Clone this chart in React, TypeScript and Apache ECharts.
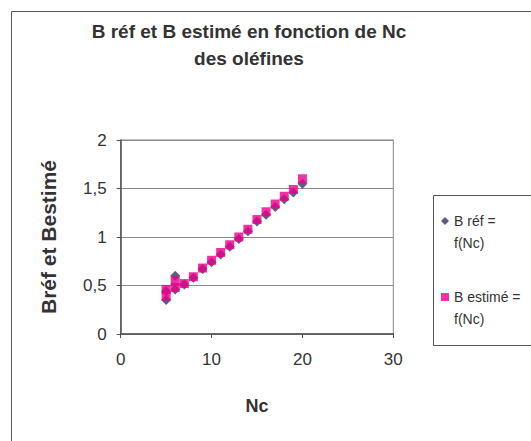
import React, { useEffect, useRef } from "react";
import * as echarts from "echarts";

const titleText = "B réf et B estimé en fonction de Nc\ndes oléfines";
const xName = "Nc";
const yName = "Bréf et Bestimé";
const refName = "B réf = f(Nc)";
const estName = "B estimé = f(Nc)";

const nc = [5, 5, 6, 6, 7, 8, 9, 10, 11, 12, 13, 14, 15, 16, 17, 18, 19, 20];
const bRef = [0.35, 0.44, 0.6, 0.46, 0.51, 0.58, 0.67, 0.74, 0.82, 0.9, 0.98, 1.06, 1.16, 1.23, 1.31, 1.39, 1.46, 1.55];
const bEst = [0.39, 0.46, 0.55, 0.48, 0.52, 0.59, 0.68, 0.76, 0.84, 0.92, 1.0, 1.08, 1.18, 1.26, 1.34, 1.42, 1.49, 1.6];

const FONT = "'Liberation Sans', Arial, sans-serif";

export default function App() {
  const ref = useRef<HTMLDivElement>(null);
  useEffect(() => {
    if (!ref.current) return;
    const chart = echarts.init(ref.current, null, { renderer: "svg" });
    chart.setOption({
      animation: false,
      backgroundColor: "#ffffff",
      textStyle: { fontFamily: FONT },
      title: {
        text: titleText,
        left: 249,
        top: 18,
        padding: 0,
        textAlign: "center",
        textStyle: { fontFamily: FONT, fontSize: 19, fontWeight: "bold", color: "#333333", lineHeight: 27 },
      },
      grid: {
        left: 120.7,
        right: 137.7,
        top: 140,
        bottom: 107,
        show: true,
        borderColor: "#8c8282",
        borderWidth: 1,
      },
      legend: {
        orient: "vertical",
        left: 441,
        top: 188,
        padding: 0,
        itemGap: 10,
        itemWidth: 8,
        itemHeight: 8,
        data: [
          { name: refName, icon: "diamond" },
          { name: estName, icon: "rect" },
        ],
        formatter: (n: string) => "\n" + n.replace(" f(Nc)", "\nf(Nc)"),
        textStyle: { fontFamily: FONT, fontSize: 14, color: "#333333", lineHeight: 22 },
      },
      xAxis: {
        type: "value",
        min: 0,
        max: 30,
        interval: 10,
        name: xName,
        nameLocation: "middle",
        nameGap: 63,
        nameTextStyle: { fontFamily: FONT, fontSize: 18, fontWeight: "bold", color: "#333333" },
        axisLine: { show: true, onZero: false, lineStyle: { color: "#555050", width: 1.5 } },
        axisTick: { show: true, length: 4, lineStyle: { color: "#555050" } },
        axisLabel: { margin: 17, fontSize: 17, color: "#333333", fontFamily: FONT },
        splitLine: { show: false },
      },
      yAxis: {
        type: "value",
        min: 0,
        max: 2,
        interval: 0.5,
        name: yName,
        nameLocation: "middle",
        nameRotate: 90,
        nameGap: 62,
        nameTextStyle: { fontFamily: FONT, fontSize: 21, fontWeight: "bold", color: "#333333" },
        axisLine: { show: true, onZero: false, lineStyle: { color: "#555050", width: 1.5 } },
        axisTick: { show: true, length: 4, lineStyle: { color: "#555050" } },
        axisLabel: {
          margin: 14,
          fontSize: 17,
          color: "#333333",
          fontFamily: FONT,
          formatter: (v: number) => String(v).replace(".", ","),
        },
        splitLine: { show: true, lineStyle: { color: "#8a8a8a", width: 1 } },
      },
      series: [
        {
          name: refName,
          type: "scatter",
          symbol: "diamond",
          symbolSize: 10,
          itemStyle: { color: "#333366" },
          data: nc.map((x, i) => [x, bRef[i]]),
        },
        {
          name: estName,
          type: "scatter",
          symbol: "rect",
          symbolSize: 9,
          itemStyle: { color: "#ec008c" },
          data: nc.map((x, i) => [x, bEst[i]]),
        },
      ],
      graphic: [
        {
          type: "rect",
          shape: { x: 11.5, y: 11.5, width: 700, height: 600 },
          style: { fill: "none", stroke: "#555555", lineWidth: 1 },
          silent: true,
        },
        {
          type: "rect",
          shape: { x: 433.5, y: 195.5, width: 200, height: 150 },
          style: { fill: "none", stroke: "#555555", lineWidth: 1 },
          silent: true,
        },
      ],
    });
    return () => chart.dispose();
  }, []);
  return (
    <div
      ref={ref}
      style={{ position: "absolute", left: 0, top: 0, width: 531, height: 441 }}
    />
  );
}
